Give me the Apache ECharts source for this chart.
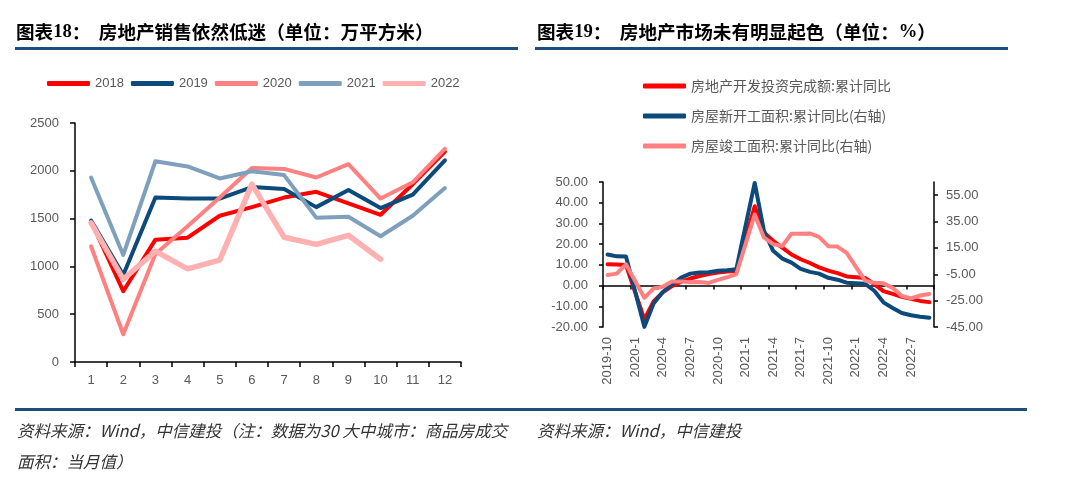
<!DOCTYPE html>
<html><head><meta charset="utf-8">
<script src="https://cdn.jsdelivr.net/npm/echarts/dist/echarts.min.js"></script>
<style>html,body{margin:0;padding:0;background:#fff}#c{width:1080px;height:498px}</style>
</head><body><div id="c"></div>
<script>
// ---- Chart 18 data: 30 大中城市商品房成交面积 当月值 (万平方米)
const months = ['1','2','3','4','5','6','7','8','9','10','11','12'];
const yearNames = ['2018','2019','2020','2021','2022'];
const sales2018 = [1470, 740, 1280, 1300, 1530, 1620, 1720, 1780, 1660, 1540, 1860, 2200];
const sales2019 = [1480, 910, 1720, 1710, 1710, 1830, 1810, 1620, 1800, 1610, 1750, 2110];
const sales2020 = [1210, 290, 1130, 1420, 1720, 2030, 2020, 1930, 2070, 1710, 1880, 2230];
const sales2021 = [1930, 1120, 2100, 2045, 1920, 1995, 1955, 1510, 1520, 1315, 1530, 1820];
const sales2022 = [1455, 865, 1160, 975, 1065, 1860, 1305, 1230, 1325, 1075];

// ---- Chart 19 data: 累计同比 (%)
const dates = ['2019-10','2019-11','2019-12',
  '2020-1','2020-2','2020-3','2020-4','2020-5','2020-6','2020-7','2020-8','2020-9','2020-10','2020-11','2020-12',
  '2021-1','2021-2','2021-3','2021-4','2021-5','2021-6','2021-7','2021-8','2021-9','2021-10','2021-11','2021-12',
  '2022-1','2022-2','2022-3','2022-4','2022-5','2022-6','2022-7','2022-8','2022-9'];
const seriesNames19 = ['房地产开发投资完成额:累计同比','房屋新开工面积:累计同比(右轴)','房屋竣工面积:累计同比(右轴)'];
const investYoY = [10.3, 10.2, 9.9,
  null, -16.3, -7.7, -3.3, -0.3, 1.9, 3.4, 4.6, 5.6, 6.3, 6.8, 7.0,
  null, 38.3, 25.6, 21.6, 18.3, 15.0, 12.7, 10.9, 8.8, 7.2, 6.0, 4.4,
  null, 3.7, 0.7, -2.7, -4.0, -5.4, -6.4, -7.4, -8.0];
const newStartYoY = [10.0, 8.6, 8.5,
  null, -44.9, -27.2, -18.4, -12.8, -7.6, -4.5, -3.6, -3.4, -2.4, -2.0, -1.2,
  null, 64.3, 28.2, 12.8, 6.9, 3.8, -0.9, -3.2, -4.5, -7.7, -9.1, -11.4,
  null, -12.2, -17.5, -26.3, -30.6, -34.4, -36.1, -37.2, -38.0];
const completeYoY = [-5.5, -4.5, 2.6,
  null, -22.9, -15.8, -14.5, -10.5, -10.5, -11.0, -10.8, -11.6, -9.2, -7.3, -4.9,
  null, 40.4, 22.9, 17.9, 16.4, 25.7, 25.7, 26.0, 23.4, 16.3, 16.0, 11.2,
  null, -9.8, -11.5, -11.9, -15.3, -21.5, -23.3, -21.1, -19.9];

const leftColors = ['#FF0000', '#0B4A7A', '#FF8080', '#7FA0BC', '#FFB0B0'];
const rightColors = ['#FF0000', '#0B4A7A', '#FF8080'];
const salesData = [sales2018, sales2019, sales2020, sales2021, sales2022];

const numFont = '"Liberation Sans", Arial, sans-serif';
const cjk = '"Noto Sans CJK SC", sans-serif';
const grey = '#595959';
const ruleColor = '#1D4E7E';

const chart = echarts.init(document.getElementById('c'), null, {renderer: 'canvas'});

const leftSeries = yearNames.map((n, i) => ({
  name: n, type: 'line', xAxisIndex: 0, yAxisIndex: 0, data: salesData[i],
  symbol: 'none', smooth: false,
  lineStyle: {color: leftColors[i], width: i === 4 ? 5.5 : 4, cap: 'round', join: 'round'},
  itemStyle: {color: leftColors[i]}
}));
const rightData = [investYoY, newStartYoY, completeYoY];
const rightSeries = seriesNames19.map((n, i) => ({
  name: n, type: 'line', xAxisIndex: 1, yAxisIndex: i === 0 ? 1 : 2, data: rightData[i],
  symbol: 'none', connectNulls: true,
  lineStyle: {color: rightColors[i], width: 4, cap: 'round', join: 'round'},
  itemStyle: {color: rightColors[i]}
}));

const titleRich = {
  a: {fontFamily: cjk, fontWeight: 'bold', fontSize: 18.6, fill: '#000'},
  b: {fontFamily: '"Liberation Serif", serif', fontWeight: 'bold', fontSize: 18.6, fill: '#000'}
};
const footStyle = {fontFamily: cjk, fontStyle: 'italic', fontSize: 16.5, fill: '#333', verticalAlign: 'middle'};

const option = {
  backgroundColor: '#fff',
  animation: false,
  textStyle: {fontFamily: numFont},
  graphic: [
    {type: 'text', x: 16, y: 32, style: {
      text: '{a|图表}{b|18}{a|：  房地产销售依然低迷（单位：万平方米）}',
      verticalAlign: 'middle', rich: titleRich}},
    {type: 'text', x: 537, y: 32, style: {
      text: '{a|图表}{b|19}{a|：  房地产市场未有明显起色（单位：}{b|%}{a|）}',
      verticalAlign: 'middle', rich: titleRich}},
    {type: 'rect', shape: {x: 15, y: 47, width: 503, height: 3}, style: {fill: ruleColor}},
    {type: 'rect', shape: {x: 535, y: 47, width: 473, height: 3}, style: {fill: ruleColor}},
    {type: 'rect', shape: {x: 15, y: 408, width: 1012, height: 3}, style: {fill: ruleColor}},
    {type: 'text', x: 17, y: 431, style: Object.assign({
      text: '资料来源：Wind，中信建投（注：数据为30 大中城市：商品房成交'}, footStyle)},
    {type: 'text', x: 17, y: 462, style: Object.assign({text: '面积：当月值）'}, footStyle)},
    {type: 'text', x: 537, y: 431, style: Object.assign({text: '资料来源：Wind，中信建投'}, footStyle)}
  ],
  legend: [
    {data: yearNames, left: 47, top: 77, padding: 0, orient: 'horizontal', icon: 'roundRect',
     itemWidth: 43, itemHeight: 5, itemGap: 7,
     textStyle: {fontFamily: numFont, fontSize: 13, color: grey}},
    {data: seriesNames19, left: 643, top: 79, padding: 0, orient: 'vertical', icon: 'roundRect',
     itemWidth: 43, itemHeight: 5, itemGap: 16,
     textStyle: {fontFamily: cjk, fontSize: 14, color: grey}}
  ],
  grid: [
    {left: 75, top: 123, width: 386, height: 239, containLabel: false, outerBoundsMode: 'none'},
    {left: 603, top: 182, width: 331, height: 145, containLabel: false, outerBoundsMode: 'none'}
  ],
  xAxis: [
    {gridIndex: 0, type: 'category', data: months, boundaryGap: true, position: 'bottom',
     axisLine: {show: true, lineStyle: {color: '#000', width: 1.5}},
     axisTick: {show: true, length: 5, interval: 0, lineStyle: {color: '#000', width: 1.5}},
     axisLabel: {color: grey, fontSize: 13, margin: 12, interval: 0, fontFamily: numFont},
     splitLine: {show: false}},
    {gridIndex: 1, type: 'category', data: dates, boundaryGap: true, position: 'bottom',
     axisLine: {show: true, onZero: true, onZeroAxisIndex: 1, lineStyle: {color: '#000', width: 1.5}},
     axisTick: {show: true, length: 4, interval: 2, lineStyle: {color: '#000', width: 1.5}},
     axisLabel: {show: false},
     splitLine: {show: false}},
    {gridIndex: 1, type: 'category', data: dates, boundaryGap: true, position: 'bottom',
     axisLine: {show: false, onZero: false},
     axisTick: {show: false},
     axisLabel: {show: true, interval: 2, rotate: 90, color: grey, fontSize: 13, margin: 10, fontFamily: numFont},
     splitLine: {show: false}}
  ],
  yAxis: [
    {gridIndex: 0, type: 'value', min: 0, max: 2500, interval: 500, position: 'left',
     axisLine: {show: true, lineStyle: {color: '#000', width: 1.5}},
     axisTick: {show: true, length: 5, lineStyle: {color: '#000', width: 1.5}},
     axisLabel: {color: grey, fontSize: 13, margin: 16, fontFamily: numFont,
                 formatter: v => String(v)},
     splitLine: {show: false}},
    {gridIndex: 1, type: 'value', min: -20, max: 50, interval: 10, position: 'left',
     axisLine: {show: true, onZero: false, lineStyle: {color: '#000', width: 1.5}},
     axisTick: {show: true, length: 4, lineStyle: {color: '#000', width: 1.5}},
     axisLabel: {color: grey, fontSize: 13, margin: 15, fontFamily: numFont,
                 formatter: v => v.toFixed(2)},
     splitLine: {show: false}},
    {gridIndex: 1, type: 'value', min: -45, max: 65, interval: 20, position: 'right',
     axisLine: {show: true, onZero: false, lineStyle: {color: '#000', width: 1.5}},
     axisTick: {show: true, length: 4, lineStyle: {color: '#000', width: 1.5}},
     axisLabel: {color: grey, fontSize: 13, margin: 12, fontFamily: numFont, showMaxLabel: false,
                 formatter: v => v.toFixed(2)},
     splitLine: {show: false}}
  ],
  series: leftSeries.concat(rightSeries)
};
chart.setOption(option);
</script>
</body></html>
